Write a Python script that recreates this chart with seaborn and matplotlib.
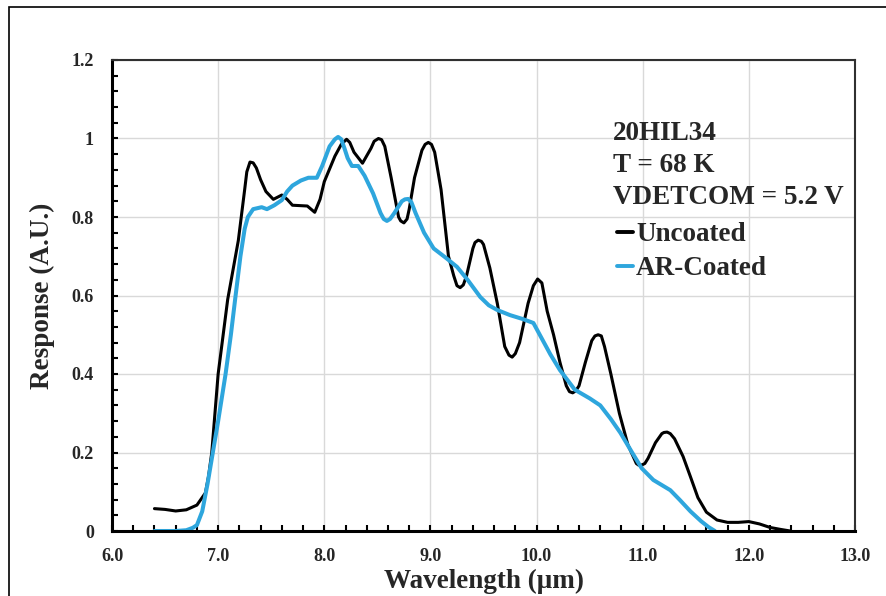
import numpy as np
import pandas as pd
import matplotlib
matplotlib.use("Agg")
import matplotlib.pyplot as plt
import matplotlib.ticker as mticker
from matplotlib.lines import Line2D
from matplotlib.patches import Rectangle
import seaborn as sns

# ── Dados ───────────────────────────────────────────────────────────────────

UNC_X = [6.40, 6.50, 6.60, 6.70, 6.80, 6.88, 6.91, 6.94, 7.00, 7.09, 7.19, 7.25,
         7.27, 7.30, 7.33, 7.36, 7.40, 7.45, 7.52, 7.60, 7.65, 7.70, 7.84, 7.91,
         7.96, 8.00, 8.10, 8.16, 8.21, 8.24, 8.28, 8.36, 8.44, 8.47, 8.51, 8.54,
         8.57, 8.63, 8.70, 8.72, 8.75, 8.78, 8.80, 8.85, 8.92, 8.95, 8.98, 9.01,
         9.04, 9.10, 9.17, 9.22, 9.25, 9.28, 9.31, 9.34, 9.40, 9.42, 9.45, 9.48,
         9.50, 9.56, 9.63, 9.70, 9.74, 9.77, 9.80, 9.84, 9.92, 9.97, 10.01, 10.05,
         10.10, 10.16, 10.22, 10.28, 10.31, 10.34, 10.37, 10.40, 10.46, 10.52,
         10.55, 10.58, 10.61, 10.64, 10.70, 10.78, 10.86, 10.94, 10.96, 10.99,
         11.02, 11.05, 11.12, 11.18, 11.20, 11.23, 11.26, 11.30, 11.38, 11.45,
         11.52, 11.60, 11.70, 11.80, 11.90, 12.00, 12.10, 12.20, 12.30, 12.39]
UNC_Y = [0.057, 0.055, 0.051, 0.054, 0.066, 0.097, 0.14, 0.20, 0.40, 0.59, 0.74, 0.87,
         0.915, 0.94, 0.938, 0.925, 0.895, 0.865, 0.845, 0.856, 0.845, 0.830, 0.828, 0.812,
         0.845, 0.89, 0.955, 0.985, 0.998, 0.99, 0.965, 0.937, 0.975, 0.993, 1.0, 0.997,
         0.98, 0.90, 0.80, 0.79, 0.785, 0.795, 0.82, 0.90, 0.97, 0.985, 0.99, 0.985,
         0.965, 0.87, 0.70, 0.65, 0.625, 0.62, 0.627, 0.65, 0.72, 0.735, 0.741, 0.738,
         0.73, 0.67, 0.58, 0.47, 0.448, 0.443, 0.452, 0.48, 0.58, 0.625, 0.642, 0.632,
         0.56, 0.50, 0.43, 0.37, 0.355, 0.352, 0.357, 0.37, 0.43, 0.485,
         0.497, 0.50, 0.497, 0.47, 0.40, 0.30, 0.22, 0.172, 0.168, 0.168,
         0.172, 0.185, 0.225, 0.248, 0.251, 0.252, 0.248, 0.235, 0.19, 0.138,
         0.085, 0.048, 0.028, 0.022, 0.022, 0.024, 0.018, 0.009, 0.004, 0.0]

AR_X = [6.40, 6.60, 6.70, 6.76, 6.80, 6.85, 6.90, 6.95, 7.00, 7.07, 7.12, 7.16,
        7.21, 7.25, 7.28, 7.33, 7.41, 7.46, 7.53, 7.60, 7.65, 7.70, 7.78, 7.85,
        7.93, 7.98, 8.05, 8.10, 8.13, 8.16, 8.19, 8.22, 8.26, 8.32, 8.38, 8.46,
        8.53, 8.56, 8.59, 8.62, 8.66, 8.73, 8.76, 8.79, 8.82, 8.86, 8.94, 9.03,
        9.15, 9.25, 9.35, 9.47, 9.55, 9.63, 9.75, 9.87, 9.97, 10.05, 10.13, 10.22,
        10.36, 10.50, 10.60, 10.70, 10.79, 10.90, 10.99, 11.10, 11.26, 11.35,
        11.45, 11.55, 11.62, 11.68]
AR_Y = [0.0, 0.0, 0.002, 0.008, 0.015, 0.05, 0.12, 0.20, 0.28, 0.40, 0.50, 0.59,
        0.70, 0.77, 0.80, 0.82, 0.825, 0.82, 0.83, 0.843, 0.865, 0.88, 0.893, 0.90,
        0.90, 0.93, 0.98, 0.998, 1.004, 0.998, 0.975, 0.95, 0.93, 0.93, 0.905, 0.86,
        0.81, 0.795, 0.79, 0.795, 0.81, 0.84, 0.845, 0.846, 0.838, 0.81, 0.76, 0.72,
        0.695, 0.673, 0.64, 0.596, 0.575, 0.563, 0.55, 0.54, 0.53, 0.49, 0.45, 0.41,
        0.36, 0.338, 0.32, 0.285, 0.25, 0.20, 0.16, 0.13, 0.104, 0.079,
        0.05, 0.025, 0.01, 0.0]

INFO_LINES = ["20HIL34", "T = 68 K", "VDETCOM = 5.2 V"]
SERIES = ["Uncoated", "AR-Coated"]
COLORS = {"Uncoated": "#000000", "AR-Coated": "#2EA6DD"}
WIDTHS = {"Uncoated": 2.2, "AR-Coated": 2.9}

# ── Estilo ──────────────────────────────────────────────────────────────────

sns.set_theme(style="ticks")
plt.rcParams["font.family"] = ["Liberation Serif", "DejaVu Serif"]
plt.rcParams["font.weight"] = "bold"

df = pd.concat([
    pd.DataFrame({"x": UNC_X, "y": UNC_Y, "serie": SERIES[0]}),
    pd.DataFrame({"x": AR_X, "y": AR_Y, "serie": SERIES[1]}),
])

fig = plt.figure(figsize=(8.86, 5.96), dpi=100)
ax = fig.add_axes([112 / 886, 65 / 596, 743 / 886, 471 / 596])

# moldura externa (área do gráfico, cortada à direita/embaixo)
fig.patches.append(Rectangle((9 / 886, -0.05), 1.2, (596 - 7) / 596 + 0.05,
                             transform=fig.transFigure, fill=False,
                             edgecolor="#000000", linewidth=1.2, zorder=0))

for nome in SERIES:
    sub = df[df["serie"] == nome]
    sns.lineplot(data=sub, x="x", y="y", ax=ax, color=COLORS[nome],
                 linewidth=WIDTHS[nome], sort=False, estimator=None, legend=False,
                 solid_joinstyle="round", solid_capstyle="round")

ax.set_xlim(6.0, 13.0)
ax.set_ylim(0, 1.2)
ax.xaxis.set_major_locator(mticker.MultipleLocator(1.0))
ax.xaxis.set_minor_locator(mticker.MultipleLocator(0.2))
ax.yaxis.set_major_locator(mticker.MultipleLocator(0.2))
ax.yaxis.set_minor_locator(mticker.MultipleLocator(0.04))
ax.xaxis.set_major_formatter(mticker.FormatStrFormatter("%.1f"))
ax.yaxis.set_major_formatter(mticker.FuncFormatter(lambda v, p: f"{v:g}"))

ax.grid(True, which="major", color="#D9D9D9", linewidth=1.0)
ax.set_axisbelow(True)
ax.tick_params(which="both", direction="in", length=4, width=1.5, color="black")
ax.tick_params(axis="x", which="major", pad=12, labelsize=13)
ax.tick_params(axis="y", which="major", pad=13, labelsize=13)
for lbl in ax.get_xticklabels() + ax.get_yticklabels():
    lbl.set_fontweight("bold")

for lado in ["left", "bottom"]:
    ax.spines[lado].set_linewidth(2.2)
    ax.spines[lado].set_color("black")
for lado in ["top", "right"]:
    ax.spines[lado].set_linewidth(1.5)
    ax.spines[lado].set_color("#303030")

ax.set_xlabel("Wavelength (μm)", fontsize=19.5, fontweight="bold", labelpad=3)
ax.set_ylabel("Response (A.U.)", fontsize=19.5, fontweight="bold", labelpad=12)

# bloco de texto + legenda
for i, linha in enumerate(INFO_LINES):
    ax.text((613 - 112) / 743, (531 - 134 - 32 * i) / 471, linha,
            transform=ax.transAxes, fontsize=19.5, fontweight="bold",
            va="center", ha="left")

handles = [Line2D([], [], color=COLORS[n], linewidth=2.8) for n in SERIES]
leg = ax.legend(handles, SERIES, loc="upper left",
                bbox_to_anchor=((617 - 112) / 743, (531 - 222) / 471),
                frameon=False, handlelength=0.6, handletextpad=0.1,
                labelspacing=0.35, borderpad=0, borderaxespad=0,
                prop={"size": 19.5, "weight": "bold"})

fig.savefig("out.png", dpi=100)
